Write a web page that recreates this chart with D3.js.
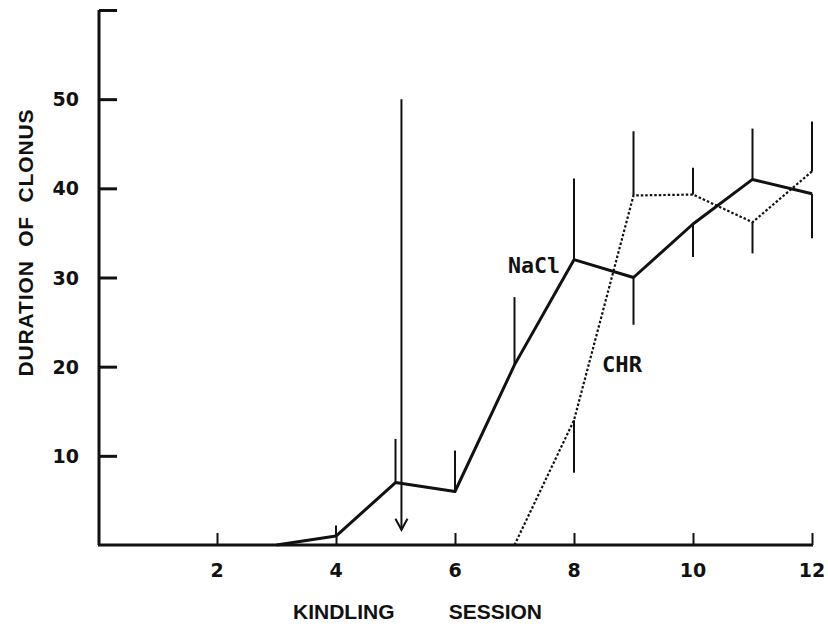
<!DOCTYPE html>
<html>
<head>
<meta charset="utf-8">
<script src="https://cdn.jsdelivr.net/npm/d3@7"></script>
<style>
  html, body { margin: 0; padding: 0; background: #fff; }
  svg { display: block; }
</style>
</head>
<body>
<svg id="chart" width="828" height="626"></svg>
<script>
// ---- data ----
const sessions = [1, 2, 3, 4, 5, 6, 7, 8, 9, 10, 11, 12];
const naclValues = [0, 0, 0, 1, 7, 6, 20.2, 32, 30, 36, 41, 39.4];
const naclErrEnd = [null, null, null, 2.2, 11.9, 10.6, 27.8, 41.1, 24.7, 32.3, 46.7, 34.4];
const chrValues = [0, 0, 0, 0, 0, 0, 0, 14, 39.2, 39.3, 36.2, 41.9];
const chrErrEnd = [null, null, null, null, null, null, null, 8.1, 46.4, 42.3, 32.7, 47.5];
const xTicks = [2, 4, 6, 8, 10, 12];
const yTicks = [10, 20, 30, 40, 50, 60];
const yTickLabels = ["10", "20", "30", "40", "50", ""];
const arrowSession = 5.1, arrowTop = 50, arrowTip = 1.7;
const xTitle = ["KINDLING", "SESSION"];
const yTitle = "DURATION  OF  CLONUS";
const seriesLabels = ["NaCl", "CHR"];

// ---- layout ----
const svg = d3.select("#chart");
const x = d3.scaleLinear().domain([0, 12]).range([98, 812]);
const y = d3.scaleLinear().domain([0, 60]).range([545, 10]);

const ink = "#111";

// axes
const yAxis = d3.axisRight(y).tickValues(yTicks).tickSize(18).tickFormat("");
const gy = svg.append("g").attr("transform", `translate(${x(0) + 1},0)`).call(yAxis);
gy.select(".domain").attr("d", `M0,${y(0)}V${y(60)}`).attr("stroke", ink).attr("stroke-width", 3);
gy.selectAll(".tick line").attr("stroke", ink).attr("stroke-width", 3);

const xAxis = d3.axisTop(x).tickValues(xTicks).tickSize(12).tickFormat("");
const gx = svg.append("g").attr("transform", `translate(0,${y(0)})`).call(xAxis);
gx.select(".domain").attr("d", `M${x(0)},0H${x(12) + 1}`).attr("stroke", ink).attr("stroke-width", 3);
gx.selectAll(".tick line").attr("stroke", ink).attr("stroke-width", 2);

// tick labels
svg.append("g").selectAll("text").data(yTicks).join("text")
  .attr("x", 79).attr("y", d => y(d) + 7)
  .attr("text-anchor", "end")
  .attr("font-family", "DejaVu Sans").attr("font-weight", "bold").attr("font-size", 19)
  .attr("fill", ink)
  .text((d, i) => yTickLabels[i]);

svg.append("g").selectAll("text").data(xTicks).join("text")
  .attr("x", d => x(d)).attr("y", 577)
  .attr("text-anchor", "middle")
  .attr("font-family", "DejaVu Sans").attr("font-weight", "bold").attr("font-size", 19)
  .attr("fill", ink)
  .text(d => String(d));

// axis titles
svg.append("text")
  .attr("x", 293).attr("y", 619)
  .attr("font-family", "Liberation Sans, Arial, sans-serif").attr("font-weight", "bold").attr("font-size", 21)
  .attr("fill", ink).text(xTitle[0]);
svg.append("text")
  .attr("x", 542).attr("y", 619).attr("text-anchor", "end")
  .attr("font-family", "Liberation Sans, Arial, sans-serif").attr("font-weight", "bold").attr("font-size", 21)
  .attr("fill", ink).text(xTitle[1]);

svg.append("text")
  .attr("transform", "translate(33,243) rotate(-90)")
  .attr("text-anchor", "middle")
  .style("white-space", "pre")
  .attr("font-family", "Liberation Sans, Arial, sans-serif").attr("font-weight", "bold").attr("font-size", 21)
  .attr("textLength", 267).attr("lengthAdjust", "spacing")
  .attr("fill", ink).text(yTitle);

// error bars
function errBars(vals, ends, w) {
  const data = sessions.map((s, i) => ({ s, v: vals[i], e: ends[i] })).filter(d => d.e !== null);
  svg.append("g").selectAll("line").data(data).join("line")
    .attr("x1", d => x(d.s)).attr("x2", d => x(d.s))
    .attr("y1", d => y(d.v)).attr("y2", d => y(d.e))
    .attr("stroke", ink).attr("stroke-width", w);
}
errBars(naclValues, naclErrEnd, 2);
errBars(chrValues, chrErrEnd, 2);

// lines (leading zero stretch lies on the axis; draw from the last zero on)
function visiblePoints(vals) {
  const pts = sessions.map((s, i) => [s, vals[i]]);
  let k = 0;
  while (k + 1 < pts.length && pts[k + 1][1] === 0) k++;
  return pts.slice(k);
}
const line = d3.line().x(d => x(d[0])).y(d => y(d[1]));
svg.append("path")
  .attr("d", line(visiblePoints(chrValues)))
  .attr("fill", "none").attr("stroke", ink).attr("stroke-width", 2.2)
  .attr("stroke-dasharray", "2.5,2");
svg.append("path")
  .attr("d", line(visiblePoints(naclValues)))
  .attr("fill", "none").attr("stroke", ink).attr("stroke-width", 3)
  .attr("stroke-linejoin", "round");

// arrow
const ax = x(arrowSession);
svg.append("line")
  .attr("x1", ax).attr("x2", ax).attr("y1", y(arrowTop)).attr("y2", y(arrowTip))
  .attr("stroke", ink).attr("stroke-width", 2);
svg.append("path")
  .attr("d", `M${ax - 6},${y(arrowTip) - 11}L${ax},${y(arrowTip)}L${ax + 6},${y(arrowTip) - 11}`)
  .attr("fill", "none").attr("stroke", ink).attr("stroke-width", 2);

// series labels
svg.append("text")
  .attr("x", 508).attr("y", 273)
  .attr("font-family", "DejaVu Sans Mono").attr("font-weight", "bold").attr("font-size", 22)
  .attr("textLength", 52).attr("lengthAdjust", "spacingAndGlyphs")
  .attr("fill", ink).text(seriesLabels[0]);
svg.append("text")
  .attr("x", 602).attr("y", 372)
  .attr("font-family", "DejaVu Sans Mono").attr("font-weight", "bold").attr("font-size", 22)
  .attr("textLength", 40).attr("lengthAdjust", "spacingAndGlyphs")
  .attr("fill", ink).text(seriesLabels[1]);
</script>
</body>
</html>
